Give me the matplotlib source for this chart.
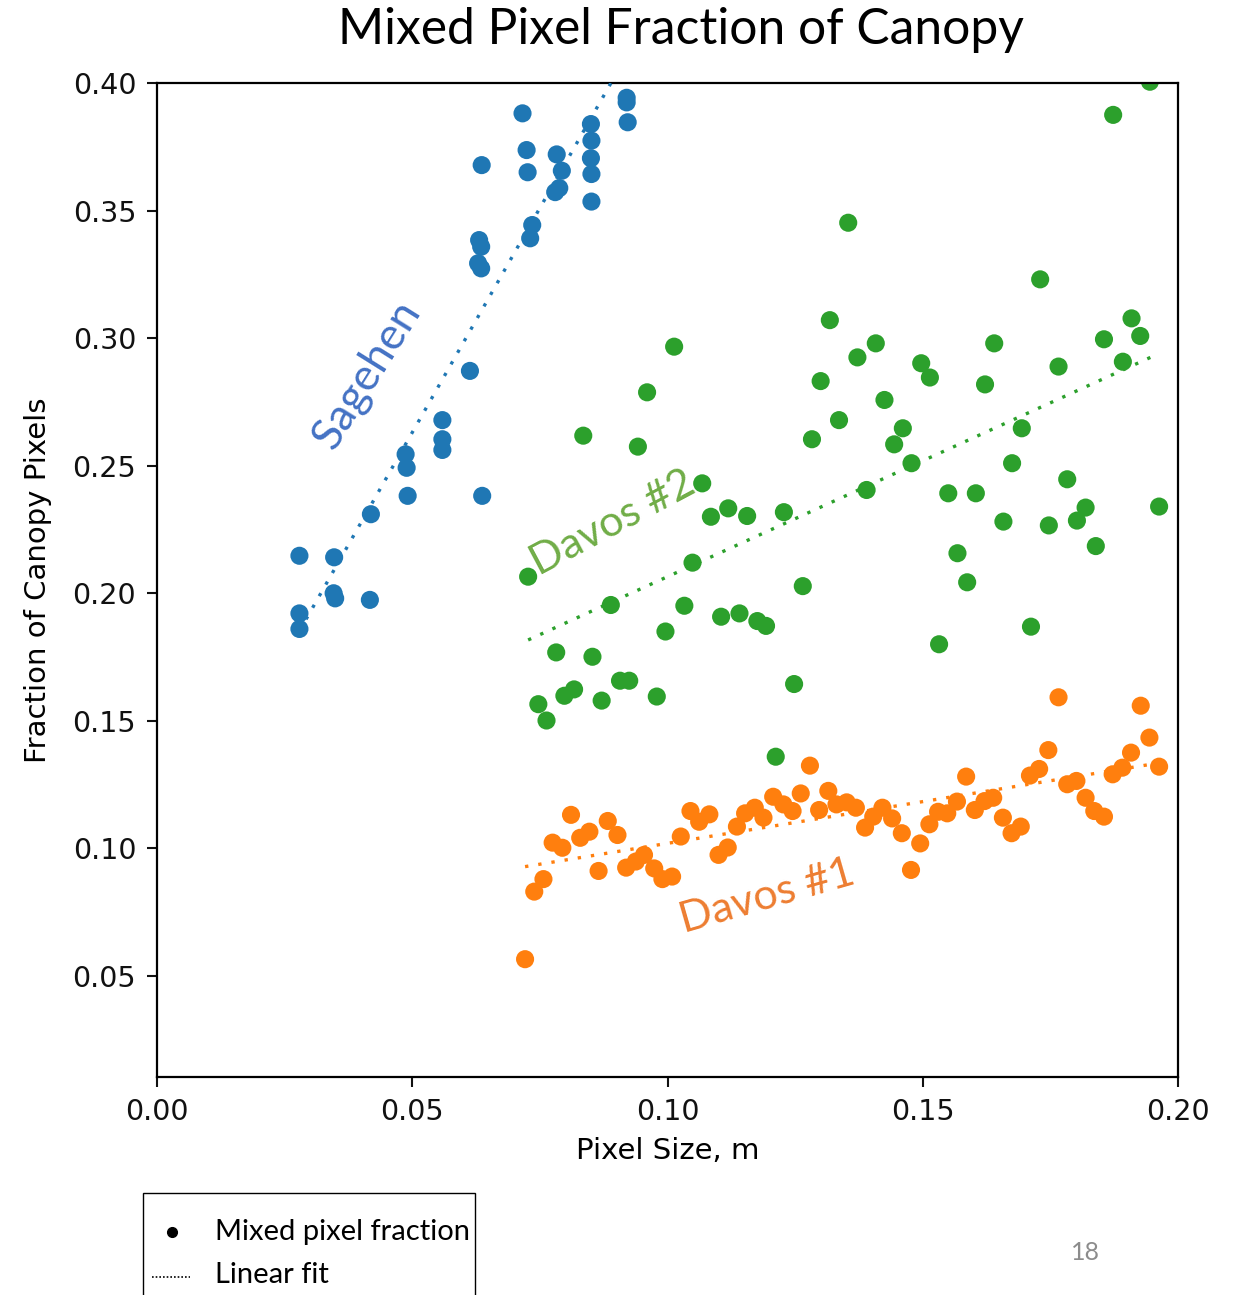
import numpy as np
import matplotlib
matplotlib.use("Agg")
import matplotlib.pyplot as plt
import matplotlib.patches as patches
from matplotlib.lines import Line2D

# Sagehen site
sag_x = [0.0920, 0.0920, 0.0922, 0.0716, 0.0850, 0.0851, 0.0850, 0.0851, 0.0851,
         0.0724, 0.0726, 0.0783, 0.0793, 0.0780, 0.0788, 0.0636, 0.0735, 0.0731,
         0.0631, 0.0635, 0.0629, 0.0635, 0.0613, 0.0559, 0.0559, 0.0559, 0.0487,
         0.0489, 0.0491, 0.0637, 0.0419, 0.0279, 0.0347, 0.0346, 0.0349, 0.0417,
         0.0279, 0.0279]
sag_y = [0.3942, 0.3924, 0.3846, 0.3881, 0.3839, 0.3774, 0.3705, 0.3643, 0.3535,
         0.3737, 0.3650, 0.3720, 0.3656, 0.3572, 0.3588, 0.3678, 0.3443, 0.3391,
         0.3384, 0.3358, 0.3293, 0.3273, 0.2871, 0.2678, 0.2603, 0.2561, 0.2544,
         0.2491, 0.2381, 0.2381, 0.2309, 0.2146, 0.2140, 0.1999, 0.1979, 0.1973,
         0.1920, 0.1859]

# Davos #2
dv2_x = [0.1013, 0.0960, 0.0835, 0.0942, 0.1068, 0.1085, 0.1119,
         0.1945, 0.1873, 0.1354, 0.1730, 0.1318, 0.1909, 0.1926, 0.1855, 0.1408,
         0.1640, 0.1372, 0.1497, 0.1514, 0.1892, 0.1766, 0.1300, 0.1622, 0.1425,
         0.1336, 0.1461, 0.1694, 0.1283, 0.1444, 0.1478, 0.1675, 0.1390, 0.1550,
         0.1604, 0.1783, 0.1819, 0.1963, 0.1802, 0.1658, 0.1747, 0.1228, 0.1156,
         0.1839, 0.1568, 0.1587, 0.1265, 0.1141, 0.1176, 0.1193, 0.1712, 0.1532,
         0.1248, 0.1212,
         0.0727, 0.1049, 0.0889, 0.1033, 0.1105, 0.0996, 0.0782, 0.0853, 0.0907,
         0.0925, 0.0798, 0.0817, 0.0871, 0.0979, 0.0747, 0.0763]
dv2_y = [0.2966, 0.2787, 0.2617, 0.2574, 0.2430, 0.2299, 0.2332,
         0.4005, 0.3875, 0.3452, 0.3230, 0.3070, 0.3077, 0.3008, 0.2995, 0.2979,
         0.2979, 0.2924, 0.2901, 0.2845, 0.2907, 0.2888, 0.2831, 0.2818, 0.2757,
         0.2678, 0.2646, 0.2646, 0.2603, 0.2583, 0.2509, 0.2509, 0.2404, 0.2391,
         0.2391, 0.2446, 0.2335, 0.2339, 0.2284, 0.2280, 0.2265, 0.2317, 0.2302,
         0.2184, 0.2156, 0.2042, 0.2027, 0.1920, 0.1890, 0.1871, 0.1868, 0.1799,
         0.1643, 0.1358,
         0.2064, 0.2119, 0.1953, 0.1950, 0.1907, 0.1849, 0.1767, 0.1750, 0.1656,
         0.1656, 0.1597, 0.1622, 0.1578, 0.1594, 0.1564, 0.1500]

# Davos #1
dv1_x = [0.0721, 0.0739, 0.0757, 0.0811, 0.0775, 0.0794, 0.0829, 0.0847, 0.0865,
         0.0883, 0.0902, 0.0919, 0.0938, 0.0954, 0.0974, 0.0990, 0.1009, 0.1026,
         0.1045, 0.1062, 0.1082, 0.1100, 0.1118, 0.1136, 0.1152, 0.1171, 0.1188,
         0.1207, 0.1227, 0.1245, 0.1261, 0.1279, 0.1297, 0.1315, 0.1331, 0.1351,
         0.1369, 0.1387, 0.1403, 0.1421, 0.1440, 0.1459, 0.1477, 0.1495, 0.1513,
         0.1530, 0.1548, 0.1567, 0.1585, 0.1602, 0.1621, 0.1638, 0.1657, 0.1674,
         0.1692, 0.1710, 0.1728, 0.1746, 0.1766, 0.1783, 0.1801, 0.1819, 0.1836,
         0.1855, 0.1872, 0.1891, 0.1908, 0.1927, 0.1944, 0.1963]
dv1_y = [0.0564, 0.0829, 0.0878, 0.1130, 0.1021, 0.1001, 0.1040, 0.1064, 0.0910,
         0.1106, 0.1051, 0.0923, 0.0947, 0.0973, 0.0920, 0.0878, 0.0888, 0.1045,
         0.1145, 0.1103, 0.1132, 0.0973, 0.1002, 0.1084, 0.1136, 0.1158, 0.1119,
         0.1201, 0.1171, 0.1145, 0.1214, 0.1323, 0.1149, 0.1224, 0.1171, 0.1179,
         0.1158, 0.1080, 0.1123, 0.1158, 0.1116, 0.1058, 0.0914, 0.1018, 0.1093,
         0.1142, 0.1136, 0.1182, 0.1280, 0.1149, 0.1184, 0.1197, 0.1119, 0.1058,
         0.1084, 0.1284, 0.1310, 0.1384, 0.1591, 0.1250, 0.1263, 0.1197, 0.1145,
         0.1123, 0.1289, 0.1315, 0.1374, 0.1558, 0.1433, 0.1319]

# linear fits (slope, intercept)
sag_fit = (3.521, 0.0869)
dv2_fit = (0.909, 0.1155)
dv1_fit = (0.3273, 0.0691)

C_BLUE, C_ORANGE, C_GREEN = "#1f77b4", "#ff7f0e", "#2ca02c"
SLIDE = ["Lato", "DejaVu Sans"]
W, H = 1238, 1295


def fx(px):
    return px / W


def fy(py):
    return 1 - py / H


fig = plt.figure(figsize=(W / 100, H / 100), dpi=100)
ax = fig.add_axes([fx(157), fy(1077), 1021 / W, 994 / H])

series = [(sag_x, sag_y, sag_fit, C_BLUE),
          (dv2_x, dv2_y, dv2_fit, C_GREEN),
          (dv1_x, dv1_y, dv1_fit, C_ORANGE)]
for xs, ys, (m, b), col in series:
    ax.scatter(xs, ys, s=170, color=col, edgecolors="none", zorder=2)
for xs, ys, (m, b), col in series:
    lx = np.array([min(xs), max(xs)])
    ax.plot(lx, m * lx + b, color=col, lw=2.4, linestyle=(0, (1, 3)),
            dash_capstyle="butt", zorder=3)

ax.set_xlim(0, 0.20)
ax.set_ylim(0.0102, 0.40)
ax.set_xticks([0.00, 0.05, 0.10, 0.15, 0.20])
ax.set_yticks([0.05, 0.10, 0.15, 0.20, 0.25, 0.30, 0.35, 0.40])
ax.xaxis.set_major_formatter(matplotlib.ticker.FormatStrFormatter("%.2f"))
ax.yaxis.set_major_formatter(matplotlib.ticker.FormatStrFormatter("%.2f"))
ax.tick_params(labelsize=20.5, length=7, width=1.5, pad=8, colors="#111111")
for sp in ax.spines.values():
    sp.set_linewidth(1.6)
ax.set_xlabel("Pixel Size, m", fontsize=21, labelpad=8)
ax.set_ylabel("Fraction of Canopy Pixels", fontsize=21, labelpad=15)

fig.text(fx(681), fy(30), "Mixed Pixel Fraction of Canopy",
         ha="center", va="center", fontsize=35.8, family=SLIDE)

# site labels
ax.text(0.0411, 0.2855, "Sagehen", color="#4472c4", fontsize=32, family=SLIDE,
        rotation=58, rotation_mode="anchor", ha="center", va="center")
ax.text(0.0893, 0.2275, "Davos #2", color="#70ad47", fontsize=31, family=SLIDE,
        rotation=28, rotation_mode="anchor", ha="center", va="center")
ax.text(0.1195, 0.0808, "Davos #1", color="#ed7d31", fontsize=31, family=SLIDE,
        rotation=16, rotation_mode="anchor", ha="center", va="center")

# legend box, cut off by the bottom edge
fig.patches.append(patches.Rectangle((fx(143), fy(1330)), (475 - 143) / W, 137 / H,
                                     transform=fig.transFigure, facecolor="white",
                                     edgecolor="black", lw=1.0))
fig.lines.append(Line2D([fx(172)], [fy(1232)], marker="o", color="black",
                        linestyle="none", markersize=7, transform=fig.transFigure))
fig.lines.append(Line2D([fx(152), fx(190)], [fy(1277), fy(1277)], color="black",
                        lw=1.2, linestyle=(0, (1, 1.2)), transform=fig.transFigure))
fig.text(fx(215), fy(1232), "Mixed pixel fraction", fontsize=21, family=SLIDE,
         ha="left", va="center")
fig.text(fx(215), fy(1275), "Linear fit", fontsize=21, family=SLIDE,
         ha="left", va="center")

fig.text(fx(1085), fy(1252), "18", color="#8c8c8c", fontsize=18,
         family=SLIDE, ha="center", va="center")

fig.savefig("out.png", dpi=100)
